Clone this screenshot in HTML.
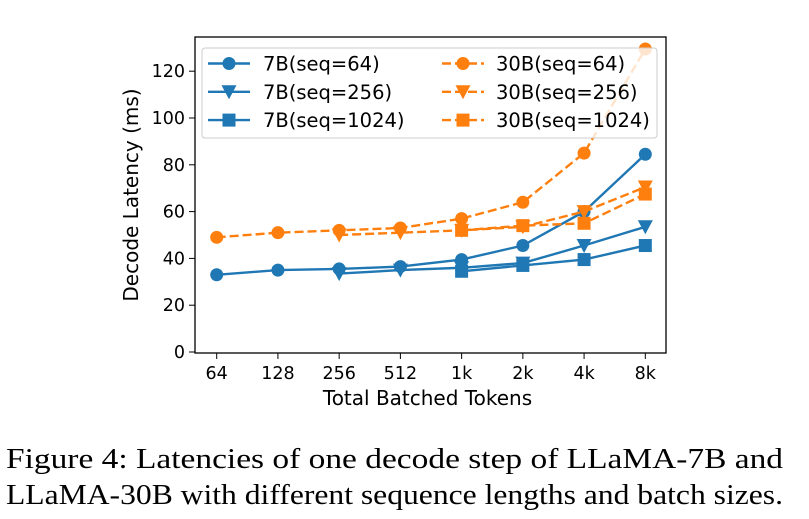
<!DOCTYPE html>
<html><head><meta charset="utf-8"><style>
body{margin:0;background:#fff;width:809px;height:519px;overflow:hidden}
svg text{font-family:"DejaVu Sans",sans-serif}
</style></head><body>
<svg id="chart" width="809" height="430" style="position:absolute;left:0;top:0"></svg>
<svg width="809" height="89" style="position:absolute;left:0;top:430px">
<text x="6" y="38" textLength="777" lengthAdjust="spacingAndGlyphs" style="font-family:'Liberation Serif',serif;font-size:28px">Figure 4: Latencies of one decode step of LLaMA-7B and</text>
<text x="6" y="74" textLength="777" lengthAdjust="spacingAndGlyphs" style="font-family:'Liberation Serif',serif;font-size:28px">LLaMA-30B with different sequence lengths and batch sizes.</text>
</svg>
<script>
const categories=["64","128","256","512","1k","2k","4k","8k"];
const yTicks=[0,20,40,60,80,100,120];
const s7b64=[33,35,35.5,36.5,39.5,45.5,60,84.5];
const s7b256=[null,null,33.5,35,36,38,45.5,53.5];
const s7b1024=[null,null,null,null,34.5,37,39.5,45.5];
const s30b64=[49,51,52,53,57,64,85,129.5];
const s30b256=[null,null,50,51,52,53.5,60,70.5];
const s30b1024=[null,null,null,null,52,54,55,67.5];
const NS="http://www.w3.org/2000/svg";
const svg=document.getElementById('chart');
const L=195,R=666,T=37,B=353;
const x=i=>216.7+i*61.23;
const y=v=>352-v*2.34;
function mk(tag,a,p){const e=document.createElementNS(NS,tag);for(const k in a)e.setAttribute(k,a[k]);(p||svg).appendChild(e);return e;}
function marker(kind,cx,cy,col,g){
 if(kind==='o')return mk('circle',{cx:cx,cy:cy,r:6.5,fill:col},g);
 if(kind==='v')return mk('polygon',{points:`${cx-7.5},${cy-6.5} ${cx+7.5},${cy-6.5} ${cx},${cy+7.5}`,fill:col},g);
 return mk('rect',{x:cx-6.5,y:cy-6.5,width:13,height:13,fill:col},g);
}
const series=[
 {n:'7B(seq=64)',d:s7b64,c:'#1f77b4',m:'o',dash:false},
 {n:'7B(seq=256)',d:s7b256,c:'#1f77b4',m:'v',dash:false},
 {n:'7B(seq=1024)',d:s7b1024,c:'#1f77b4',m:'s',dash:false},
 {n:'30B(seq=64)',d:s30b64,c:'#ff7f0e',m:'o',dash:true},
 {n:'30B(seq=256)',d:s30b256,c:'#ff7f0e',m:'v',dash:true},
 {n:'30B(seq=1024)',d:s30b1024,c:'#ff7f0e',m:'s',dash:true}];
yTicks.forEach(v=>{
 const t=mk('line',{x1:L-6,x2:L,y1:y(v),y2:y(v),stroke:'#000'});
 
 const l=mk('text',{x:L-10,y:y(v)+6,'text-anchor':'end','font-size':17.5});l.textContent=v;
 
});
categories.forEach((c,i)=>{
 const t=mk('line',{x1:x(i),x2:x(i),y1:B,y2:B+6,stroke:'#000'});
 
 const l=mk('text',{x:x(i),y:B+26,'text-anchor':'middle','font-size':17.5});l.textContent=c;
 
});
series.forEach(s=>{
 const g=mk('g',{});
 
 
 const pts=[];s.d.forEach((v,i)=>{if(v!==null)pts.push(x(i)+','+y(v));});
 mk('polyline',{points:pts.join(' '),fill:'none',stroke:s.c,'stroke-width':2.4,'stroke-dasharray':s.dash?'9,4':'none'},g);
 s.d.forEach((v,i)=>{if(v===null)return;const m=marker(s.m,x(i),y(v),s.c,g);
  });
});
const fr=mk('rect',{x:L,y:T,width:R-L,height:B-T,fill:'none',stroke:'#000','stroke-width':1.3});

const lg=mk('g',{});

mk('rect',{x:202,y:48,width:455,height:90,rx:3,fill:'rgba(255,255,255,0.8)',stroke:'#ccc'},lg);
series.forEach((s,i)=>{
 const col=Math.floor(i/3),row=i%3;
 const x0=col?442:208,yy=63.5+row*28.3;
 const e=mk('g',{},lg);
 
 mk('line',{x1:x0,x2:x0+42,y1:yy,y2:yy,stroke:s.c,'stroke-width':2.4,'stroke-dasharray':s.dash?'9,4':'none'},e);
 marker(s.m,x0+21,yy,s.c,e);
 const t=mk('text',{x:col?496:263,y:yy+7,'font-size':19.5},e);t.textContent=s.n;
});
const xt=mk('text',{x:(L+R)/2-3,y:405,'text-anchor':'middle','font-size':20});xt.textContent='Total Batched Tokens';

const yt=mk('text',{x:0,y:0,'text-anchor':'middle','font-size':20,transform:`translate(138,${(T+B)/2}) rotate(-90)`});yt.textContent='Decode Latency (ms)';

</script>
</body></html>
